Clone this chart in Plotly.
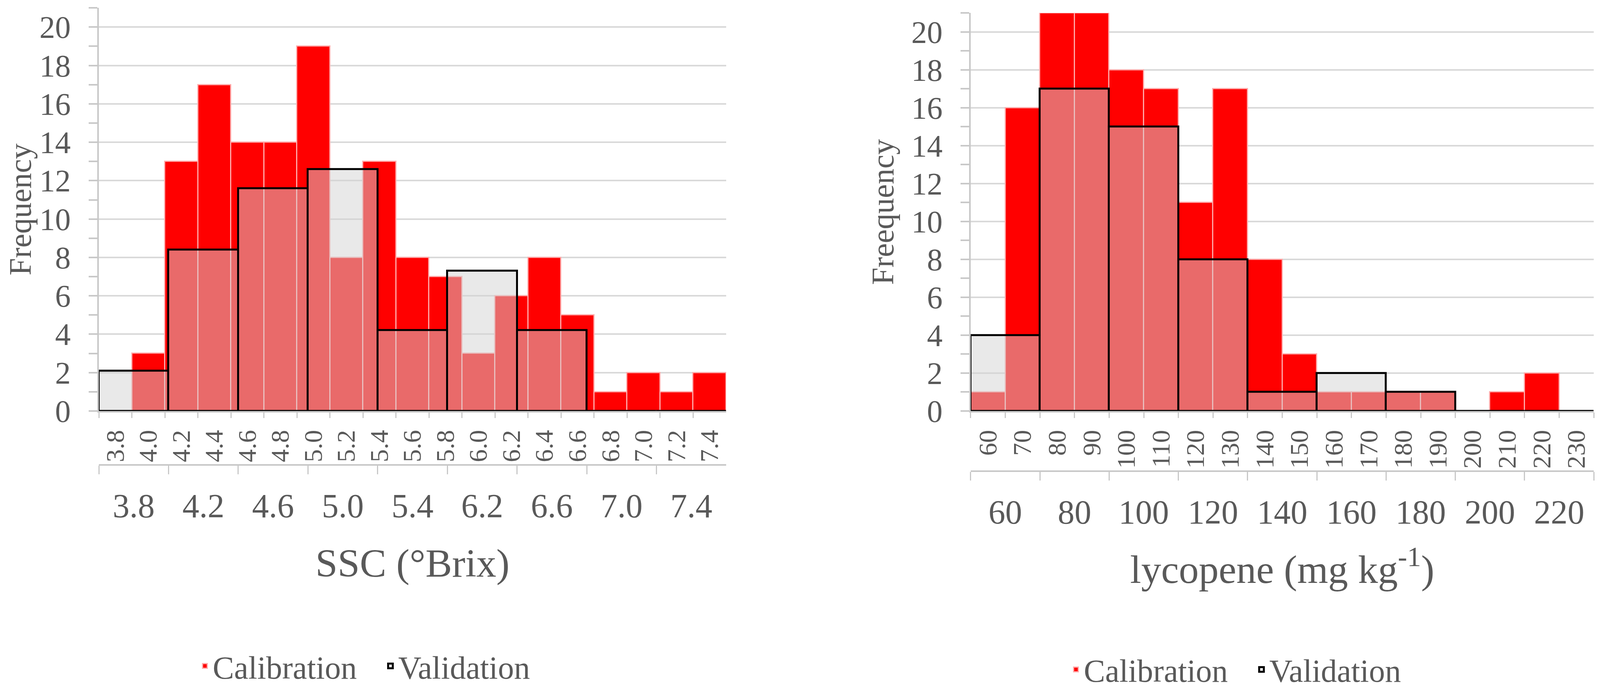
import plotly.graph_objects as go

# SSC histogram (left)
ssc_bins = ["3.8", "4.0", "4.2", "4.4", "4.6", "4.8", "5.0", "5.2", "5.4", "5.6",
            "5.8", "6.0", "6.2", "6.4", "6.6", "6.8", "7.0", "7.2", "7.4"]
ssc_cal = [0, 3, 13, 17, 14, 14, 19, 8, 13, 8, 7, 3, 6, 8, 5, 1, 2, 1, 2]
ssc_val_bins = ["3.8", "4.2", "4.6", "5.0", "5.4", "6.2", "6.6", "7.0", "7.4"]
ssc_val = [2.1, 8.4, 11.6, 12.6, 4.2, 7.3, 4.2, 0, 0]

# lycopene histogram (right)
lyc_bins = ["60", "70", "80", "90", "100", "110", "120", "130", "140", "150",
            "160", "170", "180", "190", "200", "210", "220", "230"]
lyc_cal = [1, 16, 21, 21, 18, 17, 11, 17, 8, 3, 1, 1, 1, 1, 0, 1, 2, 0]
lyc_val_bins = ["60", "80", "100", "120", "140", "160", "180", "200", "220"]
lyc_val = [4, 17, 15, 8, 1, 2, 1, 0, 0]

FONT = "Liberation Serif"
TXT = "#595959"
AXC = "#c8c8c8"
GRID = "#d9d9d9"

cal_style = dict(color="#ff0000", line=dict(color="#ffaaaa", width=3))
val_style = dict(color="rgba(211,211,211,0.5)", line=dict(color="black", width=5))

fig = go.Figure()

fig.add_trace(go.Bar(x=ssc_bins, y=ssc_cal, name="Calibration", marker=cal_style,
                     xaxis="x", yaxis="y", legend="legend"))
fig.add_trace(go.Bar(x=ssc_val_bins, y=ssc_val, name="Validation", marker=val_style,
                     xaxis="x3", yaxis="y", legend="legend"))
fig.add_trace(go.Bar(x=lyc_bins, y=lyc_cal, name="Calibration", marker=cal_style,
                     xaxis="x2", yaxis="y2", legend="legend2"))
fig.add_trace(go.Bar(x=lyc_val_bins, y=lyc_val, name="Validation", marker=val_style,
                     xaxis="x4", yaxis="y2", legend="legend2"))


def cat_axis(domain=None, **kw):
    d = dict(type="category", showgrid=False, showline=True, linecolor=AXC, linewidth=4,
             ticks="outside", tickson="boundaries", tickcolor=AXC, tickwidth=3,
             tickfont=dict(family=FONT, color=TXT), fixedrange=True)
    if domain is not None:
        d["domain"] = domain
    d.update(kw)
    return d


def y_axis(domain, anchor, title):
    return dict(domain=domain, anchor=anchor, range=[0, 21], dtick=2,
                showgrid=True, gridcolor=GRID, gridwidth=4,
                showline=True, linecolor=AXC, linewidth=4,
                ticks="outside", ticklen=22, tickcolor=AXC, tickwidth=4,
                minor=dict(dtick=1, ticks="outside", ticklen=22, tickcolor=AXC,
                           tickwidth=4, showgrid=False),
                tickfont=dict(family=FONT, size=80, color=TXT), ticklabelstandoff=30,
                title=dict(text=title, font=dict(family=FONT, size=80, color=TXT),
                           standoff=20),
                zeroline=False, fixedrange=True)


rot_font = dict(family=FONT, size=66, color=TXT)
lvl2_font = dict(family=FONT, size=86, color=TXT)
title_font = dict(family=FONT, size=102, color=TXT)
legend_font = dict(family=FONT, size=82, color=TXT)

fig.update_layout(
    width=4084, height=1762,
    margin=dict(l=0, r=0, t=0, b=0, autoexpand=False),
    paper_bgcolor="white", plot_bgcolor="white",
    barmode="overlay", bargap=0,
    xaxis=cat_axis([0.0600, 0.4532], anchor="y", ticklen=14, tickangle=-90,
                   tickfont=rot_font, ticklabelstandoff=18),
    xaxis3=cat_axis(overlaying="x", anchor="free", position=0.3290, side="bottom",
                    range=[-0.5, 8.5], ticklen=22, tickfont=lvl2_font, ticklabelstandoff=28,
                    title=dict(text="SSC (°Brix)", font=title_font, standoff=62)),
    yaxis=y_axis([0.4075, 0.9931], "x", "Frequency"),
    xaxis2=cat_axis([0.6065, 0.9971], anchor="y2", ticklen=14, tickangle=-90,
                    tickfont=rot_font, ticklabelstandoff=18),
    xaxis4=cat_axis(overlaying="x2", anchor="free", position=0.3199, side="bottom",
                    range=[-0.5, 8.5], ticklen=22, tickfont=lvl2_font, ticklabelstandoff=28,
                    title=dict(text="lycopene (mg kg<sup>-1</sup>)", font=title_font,
                               standoff=62)),
    yaxis2=y_axis([0.4075, 0.9857], "x2", "Freequency"),
    legend=dict(orientation="h", x=0.2379, xanchor="center", y=0.037, yanchor="middle",
                font=legend_font, bgcolor="rgba(0,0,0,0)", entrywidth=430),
    legend2=dict(orientation="h", x=0.7839, xanchor="center", y=0.032, yanchor="middle",
                 font=legend_font, bgcolor="rgba(0,0,0,0)", entrywidth=430),
)

fig.write_html("out.html")
